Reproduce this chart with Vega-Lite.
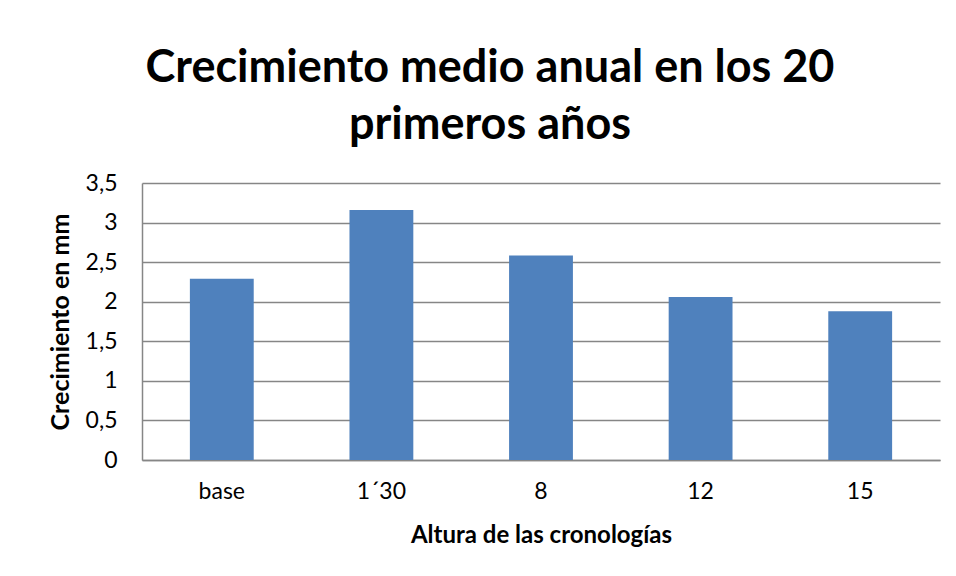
{
  "$schema": "https://vega.github.io/schema/vega-lite/v6.json",
  "width": 798,
  "height": 277,
  "autosize": {"type": "none"},
  "padding": {"left": 142, "top": 183, "right": 16, "bottom": 116},
  "background": "white",
  "title": {
    "text": ["Crecimiento medio anual en los 20", "primeros años"],
    "font": "Lato",
    "fontSize": 45,
    "fontWeight": "bold",
    "color": "black",
    "anchor": "middle",
    "dx": -51,
    "lineHeight": 57,
    "offset": 24
  },
  "data": {
    "values": [
      {"altura": "base", "crecimiento": 2.29},
      {"altura": "1´30", "crecimiento": 3.16},
      {"altura": "8", "crecimiento": 2.585},
      {"altura": "12", "crecimiento": 2.06},
      {"altura": "15", "crecimiento": 1.88}
    ]
  },
  "mark": {"type": "bar", "color": "#4f81bd"},
  "encoding": {
    "x": {
      "field": "altura",
      "type": "nominal",
      "sort": null,
      "scale": {"paddingInner": 0.6, "paddingOuter": 0.3},
      "axis": {
        "title": "Altura de las cronologías",
        "labelAngle": 0,
        "ticks": false,
        "domainColor": "#868686",
        "domainWidth": 1.5,
        "labelFont": "Lato",
        "labelFontSize": 23,
        "labelColor": "black",
        "labelPadding": 20,
        "titleFont": "Lato",
        "titleFontSize": 24,
        "titleFontWeight": "bold",
        "titleColor": "black",
        "titlePadding": 20
      }
    },
    "y": {
      "field": "crecimiento",
      "type": "quantitative",
      "scale": {"domain": [0, 3.5], "nice": false},
      "axis": {
        "title": "Crecimiento en mm",
        "values": [0, 0.5, 1, 1.5, 2, 2.5, 3, 3.5],
        "labelExpr": "replace(toString(datum.value), '.', ',')",
        "ticks": false,
        "grid": true,
        "gridColor": "#868686",
        "gridWidth": 1.5,
        "domainColor": "#868686",
        "domainWidth": 1.5,
        "labelFont": "Lato",
        "labelFontSize": 23,
        "labelColor": "black",
        "labelPadding": 25,
        "titleFont": "Lato",
        "titleFontSize": 25,
        "titleFontWeight": "bold",
        "titleColor": "black",
        "titlePadding": 12
      }
    }
  },
  "config": {"view": {"stroke": null}}
}
